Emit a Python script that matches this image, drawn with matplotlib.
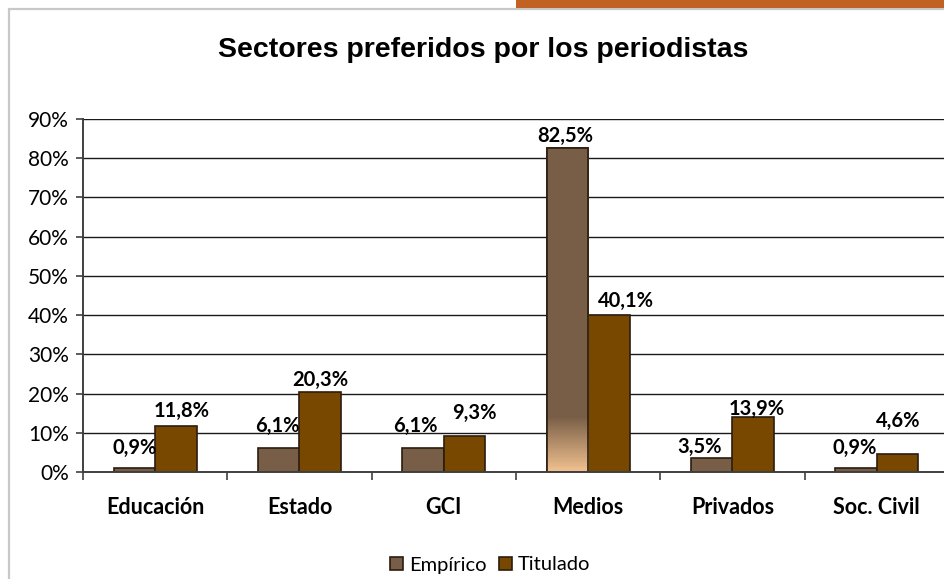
import matplotlib
matplotlib.use("Agg")
import matplotlib.pyplot as plt
import numpy as np
from matplotlib.colors import LinearSegmentedColormap
from matplotlib.patches import Rectangle

# ---- data ----
sectores = ["Educación", "Estado", "GCI", "Medios", "Privados", "Soc. Civil"]
empirico = [0.9, 6.1, 6.1, 82.5, 3.5, 0.9]
titulado = [11.8, 20.3, 9.3, 40.1, 13.9, 4.6]
y_ticks = [0, 10, 20, 30, 40, 50, 60, 70, 80, 90]

# label nudges (px) copied from the reference placement
emp_nudge = [(0, 21), (-1, 22), (-8, 22), (-2, 12), (-12, 11), (-1, 21)]
tit_nudge = [(6, 15), (0, 12), (10, 23), (17, 14), (3, 9), (1, 33)]

c_emp = "#785e46"
c_tit = "#784800"
c_edge = "#2b1d0e"

W, H, DPI = 945, 579, 100
fig = plt.figure(figsize=(W / DPI, H / DPI), dpi=DPI)
fig.patch.set_facecolor("white")

# frame + orange strip
fig.add_artist(Rectangle((9 / W, -0.1), 1.2, 1 - 9 / H + 0.1, transform=fig.transFigure,
                         fill=False, edgecolor="#c8c8c8", linewidth=1.6))
fig.add_artist(Rectangle((516 / W, 1 - 8 / H), 1, 8 / H, transform=fig.transFigure,
                         facecolor="#c26222", edgecolor="none"))

ax_left, ax_right, ax_top, ax_bottom = 83, 949, 119, 472
ax = fig.add_axes([ax_left / W, 1 - ax_bottom / H,
                   (ax_right - ax_left) / W, (ax_bottom - ax_top) / H])
ax.set_facecolor("none")

n = len(sectores)
x = np.arange(n) + 0.5
bw = 0.2876
bars_e = ax.bar(x - bw / 2, empirico, bw, color=c_emp, edgecolor=c_edge, linewidth=1.2, zorder=3)
bars_t = ax.bar(x + bw / 2, titulado, bw, color=c_tit, edgecolor=c_edge, linewidth=1.2, zorder=3)

# gradient at the foot of the Medios bar
medios = bars_e[3]
grad_cmap = LinearSegmentedColormap.from_list("g", [(0, "#f2c190"), (0.17, c_emp), (1, c_emp)])
grad = np.linspace(0, 1, 256).reshape(-1, 1)
im = ax.imshow(grad, cmap=grad_cmap, origin="lower", aspect="auto", zorder=3.5,
               extent=[medios.get_x(), medios.get_x() + bw, 0, empirico[3]])
im.set_clip_path(medios)
ax.bar(medios.get_x() + bw / 2, empirico[3], bw, facecolor="none", edgecolor=c_edge,
       linewidth=1.2, zorder=4)

ax.set_xlim(0, n)
ax.set_ylim(0, 90)

ax.set_yticks(y_ticks)
ax.set_yticklabels([f"{v}%" for v in y_ticks])
ax.yaxis.grid(True, color="#1a1a1a", linewidth=1.0)
ax.set_axisbelow(True)

ax.set_xticks(np.arange(n + 1))
ax.set_xticklabels([])
ax.set_xticks(x, minor=True)
ax.set_xticklabels(sectores, minor=True, fontfamily="Lato", fontweight="bold", fontsize=15.5)
ax.tick_params(axis="x", which="major", length=6, width=1.2, color="#404040", direction="out")
ax.tick_params(axis="x", which="minor", length=0, pad=18)
ax.tick_params(axis="y", length=5, width=1.2, color="#404040", pad=5)
for lbl in ax.get_yticklabels():
    lbl.set_fontfamily("Lato")
    lbl.set_fontsize(15)

for side in ["top", "right"]:
    ax.spines[side].set_visible(False)
for side in ["left", "bottom"]:
    ax.spines[side].set_color("#404040")
    ax.spines[side].set_linewidth(1.4)
    ax.spines[side].set_zorder(5)

px = 72 / DPI
for bars, vals, nudges in [(bars_e, empirico, emp_nudge), (bars_t, titulado, tit_nudge)]:
    for b, v, (dx, dy) in zip(bars, vals, nudges):
        ax.annotate(f"{v:.1f}%".replace(".", ","), (b.get_x() + bw / 2, v),
                    xytext=(dx * px, dy * px), textcoords="offset points",
                    ha="center", va="center", fontfamily="Lato", fontweight="bold",
                    fontsize=14.5, zorder=6)

fig.text(483 / W, 1 - 50 / H, "Sectores preferidos por los periodistas",
         ha="center", va="center", fontfamily="Liberation Sans", fontweight="bold", fontsize=20.5)

fig.legend([bars_e[0], bars_t[0]], ["Empírico", "Titulado"], loc="center",
           bbox_to_anchor=(490 / W, 1 - 565 / H), ncol=2, frameon=False,
           prop={"family": "Lato", "size": 14.5}, handlelength=0.65, handleheight=0.65,
           handletextpad=0.3, columnspacing=0.6, borderpad=0.2)

fig.savefig("out.png", dpi=DPI)
